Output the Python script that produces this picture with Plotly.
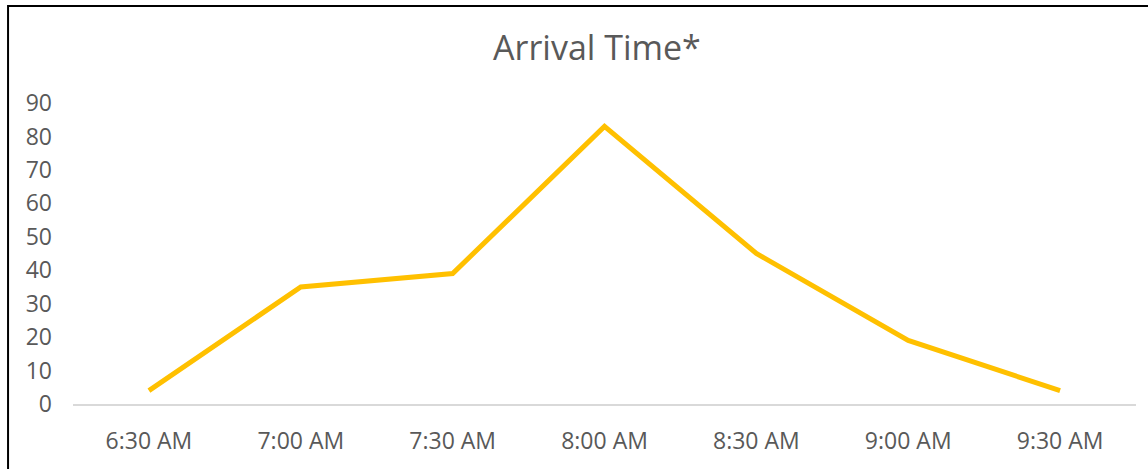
import plotly.graph_objects as go

categories = ["6:30 AM", "7:00 AM", "7:30 AM", "8:00 AM", "8:30 AM", "9:00 AM", "9:30 AM"]
arrivals = [4, 35, 39, 83, 45, 19, 4]
y_ticks = [0, 10, 20, 30, 40, 50, 60, 70, 80, 90]

fig = go.Figure()
fig.add_trace(go.Scatter(
    x=categories, y=arrivals, mode="lines",
    line=dict(color="#FFC000", width=5),
    hoverinfo="x+y",
))

fig.update_layout(
    width=1148, height=469,
    margin=dict(l=73, r=12, t=103, b=65),
    paper_bgcolor="white", plot_bgcolor="white",
    showlegend=False,
    font=dict(family="Open Sans, Noto Sans, sans-serif", color="#595959", size=23),
    title=dict(text="Arrival Time*", x=0.52, xanchor="center", y=0.897, yanchor="middle",
               yref="container", font=dict(size=34, color="#595959")),
    xaxis=dict(type="category", range=[-0.5, 6.5], showgrid=False, zeroline=False,
               showline=True, linecolor="#D9D9D9", linewidth=1.5, ticks="",
               ticklabelstandoff=16),
    yaxis=dict(range=[0, 90], tickvals=y_ticks, showgrid=False, zeroline=False,
               showline=False, ticks="", ticklabelstandoff=20),
    shapes=[dict(type="rect", xref="paper", yref="paper",
                 x0=-0.0611, x1=1.02, y0=-0.26, y1=1.3223,
                 line=dict(color="black", width=2), fillcolor="rgba(0,0,0,0)",
                 layer="below")],
)

fig.write_html("out.html", config={"displayModeBar": False},
               post_script="document.body.style.margin='0';document.body.style.overflow='hidden';")
